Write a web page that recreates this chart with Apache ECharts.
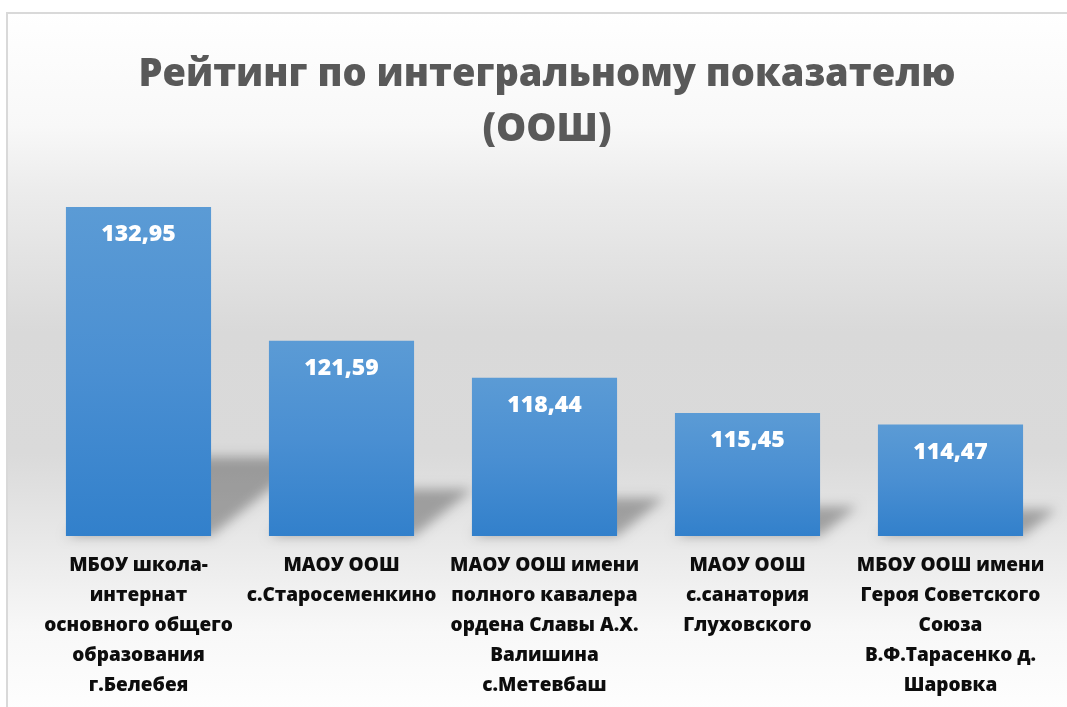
<!DOCTYPE html>
<html>
<head>
<meta charset="utf-8">
<title>Рейтинг по интегральному показателю (ООШ)</title>
<script src="https://cdn.jsdelivr.net/npm/echarts@6/dist/echarts.min.js"></script>
<style>
  html, body { margin: 0; padding: 0; background: #fff; }
  #main { width: 1067px; height: 707px; }
</style>
</head>
<body>
<div id="main"></div>
<script>
// schools (category labels, wrapped as in the picture)
var schools = [
  'МБОУ школа-\nинтернат\nосновного общего\nобразования\nг.Белебея',
  'МАОУ ООШ\nс.Старосеменкино',
  'МАОУ ООШ имени\nполного кавалера\nордена Славы А.Х.\nВалишина\nс.Метевбаш',
  'МАОУ ООШ\nс.санатория\nГлуховского',
  'МБОУ ООШ имени\nГероя Советского\nСоюза\nВ.Ф.Тарасенко д.\nШаровка'
];
// integral index values
var scores = [132.95, 121.59, 118.44, 115.45, 114.47];
var yMin = 105, yMax = 135;

var FONT = '"Open Sans", "Noto Sans", sans-serif';
var WEIGHT = 800;
var BAR_RATIO = 0.715;
var OFF = 3000; // draw shadow shape off-canvas, keep only its blurred shadow

var chart = echarts.init(document.getElementById('main'));

// soft cast shadow behind each bar (sheared back to the right)
function renderShadow(params, api) {
  var idx = api.value(0);
  var top = api.coord([idx, api.value(1)]);
  var base = api.coord([idx, yMin]);
  var bw = api.size([1, 0])[0] * BAR_RATIO;
  var h = base[1] - top[1];
  var k = h * 0.24, s = h * 0.3;
  var xl = base[0] - bw / 2 - OFF, xr = base[0] + bw / 2 - OFF, yb = base[1];
  return {
    type: 'polygon',
    shape: { points: [[xl, yb], [xr, yb], [xr + s, yb - k], [xl + s, yb - k]] },
    style: {
      fill: '#000',
      shadowBlur: 12,
      shadowOffsetX: OFF,
      shadowColor: 'rgba(0,0,0,0.3)'
    }
  };
}

var option = {
  animation: false,
  graphic: [{
    type: 'rect',
    z: -10,
    silent: true,
    shape: { x: 7, y: 13, width: 1080, height: 710 },
    style: {
      stroke: '#d9d9d9',
      lineWidth: 2,
      fill: new echarts.graphic.LinearGradient(0, 0, 0, 1, [
        { offset: 0, color: '#ffffff' },
        { offset: 0.16, color: '#f8f8f8' },
        { offset: 0.25, color: '#ececec' },
        { offset: 0.45, color: '#d9d9d9' },
        { offset: 0.62, color: '#dadada' },
        { offset: 0.74, color: '#e8e8e8' },
        { offset: 0.87, color: '#f8f8f8' },
        { offset: 1, color: '#ffffff' }
      ])
    }
  }],
  title: {
    text: 'Рейтинг по интегральному показателю\n(ООШ)',
    left: 542,
    top: 43,
    textAlign: 'center',
    textStyle: {
      fontFamily: FONT,
      fontSize: 38,
      fontWeight: WEIGHT,
      color: '#595959',
      lineHeight: 55
    }
  },
  grid: { left: 37, right: 15, top: 183, bottom: 171 },
  xAxis: {
    type: 'category',
    data: schools,
    axisLine: { show: false },
    axisTick: { show: false },
    axisLabel: {
      interval: 0,
      margin: 15,
      fontFamily: FONT,
      fontSize: 19,
      fontWeight: WEIGHT,
      color: '#0d0d0d',
      lineHeight: 30,
      verticalAlign: 'top'
    }
  },
  yAxis: {
    type: 'value',
    min: yMin,
    max: yMax,
    show: false,
    splitLine: { show: false }
  },
  series: [
    {
      type: 'custom',
      z: 1,
      silent: true,
      renderItem: renderShadow,
      data: scores.map(function (v, i) { return [i, v]; })
    },
    {
      type: 'bar',
      z: 2,
      barWidth: (BAR_RATIO * 100) + '%',
      data: scores,
      itemStyle: {
        color: new echarts.graphic.LinearGradient(0, 0, 0, 1, [
          { offset: 0, color: '#5b9bd5' },
          { offset: 0.5, color: '#4a8fd2' },
          { offset: 1, color: '#3280cb' }
        ])
      },
      label: {
        show: true,
        position: 'insideTop',
        distance: 16,
        fontFamily: FONT,
        fontSize: 23,
        fontWeight: WEIGHT,
        color: '#ffffff',
        formatter: function (p) { return p.value.toFixed(2).replace('.', ','); }
      }
    }
  ]
};

chart.setOption(option);
</script>
</body>
</html>
